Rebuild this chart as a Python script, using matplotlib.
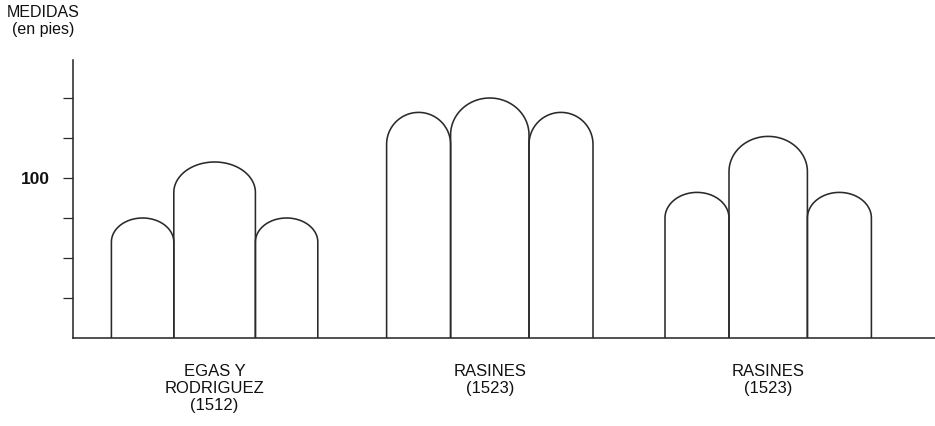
import numpy as np
import matplotlib
matplotlib.use("Agg")
import matplotlib.pyplot as plt

plt.rcParams['font.family'] = ['Liberation Sans Narrow', 'Liberation Sans', 'DejaVu Sans']

# medidas (en pies)
grupos = ["EGAS Y\nRODRIGUEZ\n(1512)", "RASINES\n(1523)", "RASINES\n(1523)"]
ancho_lateral = [39, 40, 40]
ancho_central = [51, 49, 49]
arranque_lateral = [60, 121, 75]
clave_lateral = [75, 141, 91]
arranque_central = [91, 127, 104]
clave_central = [110, 150, 126]

# posicion de cada grupo en el eje x (layout)
inicio_grupo = [24, 196, 370]

col = '#2a2a2a'
lw = 1.15

fig = plt.figure(figsize=(9.35, 4.26), dpi=100)
ax = fig.add_axes([73/935, (426-338)/426, 1 - 73/935, (338-60)/426])


def nave(x0, ancho, h_arr, h_clave):
    # muros verticales + arco semieliptico
    r = ancho / 2
    t = np.linspace(np.pi, 0, 60)
    xs = x0 + r + r*np.cos(t)
    ys = h_arr + (h_clave - h_arr)*np.sin(t)
    xs = np.concatenate([[x0], xs, [x0 + ancho]])
    ys = np.concatenate([[0], ys, [0]])
    ax.plot(xs, ys, color=col, lw=lw, solid_joinstyle='round')


for i in range(len(grupos)):
    x = inicio_grupo[i]
    nave(x, ancho_lateral[i], arranque_lateral[i], clave_lateral[i])
    x2 = x + ancho_lateral[i]
    nave(x2, ancho_central[i], arranque_central[i], clave_central[i])
    x3 = x2 + ancho_central[i]
    nave(x3, ancho_lateral[i], arranque_lateral[i], clave_lateral[i])
    xc = x + ancho_lateral[i] + ancho_central[i]/2
    ax.annotate(grupos[i], (xc, 0), xytext=(0, -19), textcoords='offset points',
                ha='center', va='top', fontsize=12, color='#111111',
                linespacing=1.17)

ax.set_xlim(0, (935-73)/1.6)
ax.set_ylim(0, (338-60)/1.6)
for s in ['top', 'right']:
    ax.spines[s].set_visible(False)
for s in ['left', 'bottom']:
    ax.spines[s].set_color(col)
    ax.spines[s].set_linewidth(lw)
ax.set_xticks([])
ax.set_yticks([25, 50, 75, 100, 125, 150])
ax.set_yticklabels(['', '', '', '100', '', ''], fontweight='bold', fontsize=12.5,
                   family=['Liberation Sans', 'DejaVu Sans'])
ax.tick_params(axis='y', direction='out', length=7.5, width=0.9, color=col,
               pad=9, labelcolor='#111111')

fig.text(43/935, 1 - 5/426, "MEDIDAS\n(en pies)", ha='center', va='top',
         fontsize=11.5, color='#111111', linespacing=1.15)

fig.savefig("out.png", dpi=100)
